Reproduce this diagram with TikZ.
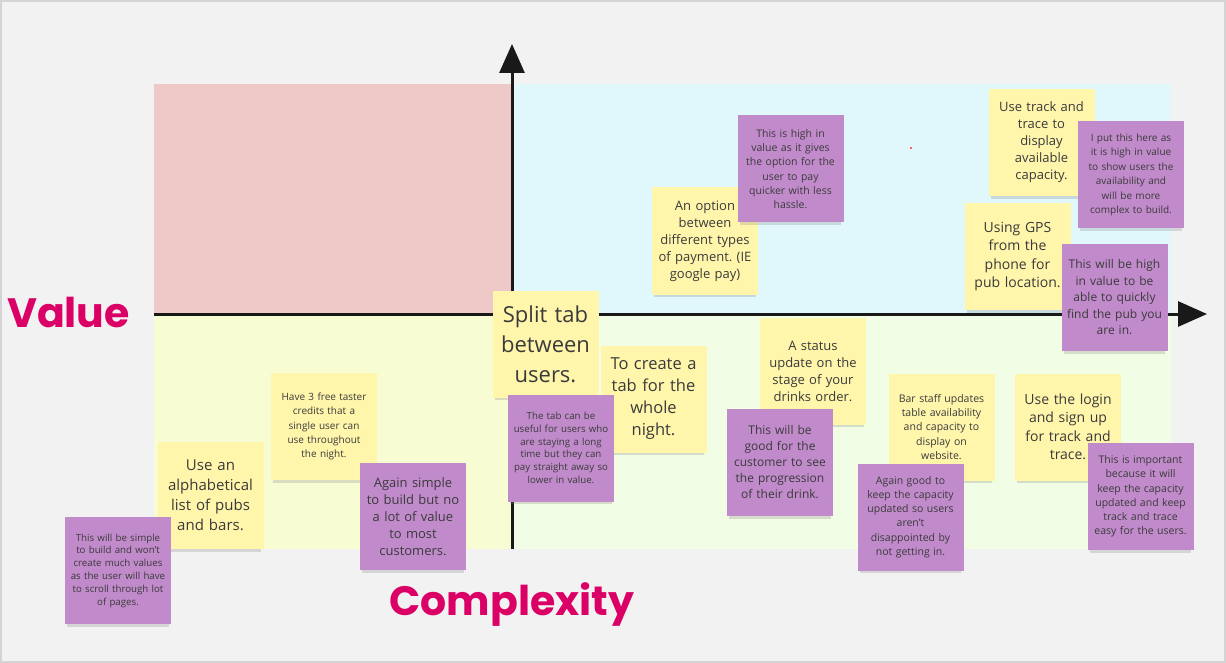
\documentclass[tikz,border=0pt]{standalone}
\usepackage{fontspec}
\setmainfont{Open Sans}
\newfontfamily\labelfont{Poppins}
\usepackage{tikz}
\usetikzlibrary{
	arrows.meta,
	positioning,
	shadows
}
\usepackage{xcolor}
\definecolor{pagegray}{HTML}{F2F2F2}
\definecolor{framegray}{HTML}{D4D4D4}
\definecolor{quadpink}{HTML}{EFC8C8}
\definecolor{quadblue}{HTML}{E0F7FC}
\definecolor{quadyellow}{HTML}{F8FCD3}
\definecolor{quadgreen}{HTML}{F1FDE4}
\definecolor{noteyellow}{HTML}{FFF6AC}
\definecolor{notepurple}{HTML}{C18BCB}
\definecolor{notetext}{HTML}{3A3A3A}
\definecolor{axislabel}{HTML}{DB0066}
\newcommand{\nsz}[2]{\fontsize{#1}{#2}\selectfont}
\frenchspacing
\tikzset{
	note/.style={minimum width=106pt, minimum height=107pt, inner sep=0pt,
		align=center, text width=104pt, text=notetext,
		drop shadow={shadow xshift=0pt, shadow yshift=-5pt, shadow scale=0.96, opacity=0.25}},
	yellownote/.style={note, fill=noteyellow},
	purplenote/.style={note, fill=notepurple},
	axisname/.style={font=\labelfont\bfseries\fontsize{41}{41}\selectfont, text=axislabel, anchor=base, inner sep=0pt}
}

\begin{document}
\begin{tikzpicture}[x=1pt,y=-1pt,>={Triangle[length=29pt,width=25pt]}]
		\useasboundingbox (0,0) rectangle (1226,663);
		\draw[fill=pagegray, draw=framegray, line width=1.5pt] (1,1) rectangle (1225,662);
		
		% Quadrants
		\fill[quadpink] (154,84) rectangle (512,314);
		\fill[quadblue] (512,84) rectangle (1171,314);
		\fill[quadyellow] (154,314) rectangle (512,549);
		\fill[quadgreen] (512,314) rectangle (1171,549);
		\fill[red!80] (911,148) circle (1.2);
		
		% Axes
		\coordinate (ybot) at (512,549);
		\coordinate (ytop) at (512,44);
		\coordinate (xleft) at (154,314);
		\coordinate (xright) at (1207,314);
		\draw[->, line width=3pt, color=black!90] (ybot) -- (ytop);
		\draw[->, line width=3pt, color=black!90] (xleft) -- (xright);
		\node[axisname] (value) at (68.5,327) {Value};
		\node[axisname] (complexity) at (512,615) {Complexity};
		
		% Ideas
		\node[yellownote, font=\nsz{13}{17}] (opt) at (705,241) {An option\\between\\different types\\of payment. (IE\\google pay)};
		\node[yellownote, font=\nsz{13}{17}] (cap) at (1041.5,142.5) {Use track and\\trace to\\display\\available\\capacity.};
		\node[yellownote, font=\nsz{14}{18.5}] (gps) at (1017.5,256.5) {Using GPS\\from the\\phone for\\pub location.};
		\node[yellownote, font=\nsz{22}{30}] (split) at (545.5,344) {Split tab\\between\\users.};
		\node[yellownote, font=\nsz{16.5}{22}] (tab) at (653.5,399) {To create a\\tab for the\\whole\\night.};
		\node[yellownote, font=\nsz{13}{17}] (status) at (813,371) {A status\\update on the\\stage of your\\drinks order.};
		\node[yellownote, font=\nsz{10.5}{14.2}] (staff) at (941.5,427) {Bar staff updates\\table availability\\and capacity to\\display on\\website.};
		\node[yellownote, font=\nsz{14}{18.5}] (login) at (1068,427) {Use the login\\and sign up\\for track and\\trace.};
		\node[yellownote, font=\nsz{10}{14.2}] (taster) at (324,426.5) {Have 3 free taster\\credits that a\\single user can\\use throughout\\the night.};
		\node[yellownote, font=\nsz{15}{20}] (alpha) at (210.5,495.5) {Use an\\alphabetical\\list of pubs\\and bars.};
		
		% Reasons
		\node[purplenote, font=\nsz{10.5}{14.2}] (optwhy) at (790.5,169) {This is high in\\value as it gives\\the option for the\\user to pay\\quicker with less\\hassle.};
		\node[purplenote, font=\nsz{10}{14.4}] (capwhy) at (1131,175) {I put this here as\\it is high in value\\to show users the\\availability and\\will be more\\complex to build.};
		\node[purplenote, font=\nsz{12}{16.5}] (gpswhy) at (1114.5,297.5) {This will be high\\in value to be\\able to quickly\\find the pub you\\are in.};
		\node[purplenote, font=\nsz{9.7}{12.7}] (tabwhy) at (561,448) {The tab can be\\useful for users who\\are staying a long\\time but they can\\pay straight away so\\lower in value.};
		\node[purplenote, font=\nsz{12}{16}] (statuswhy) at (780,462.5) {This will be\\good for the\\customer to see\\the progression\\of their drink.};
		\node[purplenote, font=\nsz{10.5}{14.2}] (staffwhy) at (910.5,517) {Again good to\\keep the capacity\\updated so users\\aren't\\disappointed by\\not getting in.};
		\node[purplenote, font=\nsz{10.5}{14.2}] (loginwhy) at (1140.5,496.5) {This is important\\because it will\\keep the capacity\\updated and keep\\track and trace\\easy for the users.};
		\node[purplenote, font=\nsz{13}{17}] (tasterwhy) at (413,516.5) {Again simple\\to build but no\\a lot of value\\to most\\customers.};
		\node[purplenote, font=\nsz{9.7}{12.8}] (alphawhy) at (118,570.5) {This will be simple\\to build and won't\\create much values\\as the user will have\\to scroll through lot\\of pages.};
		
	\end{tikzpicture}
\end{document}
